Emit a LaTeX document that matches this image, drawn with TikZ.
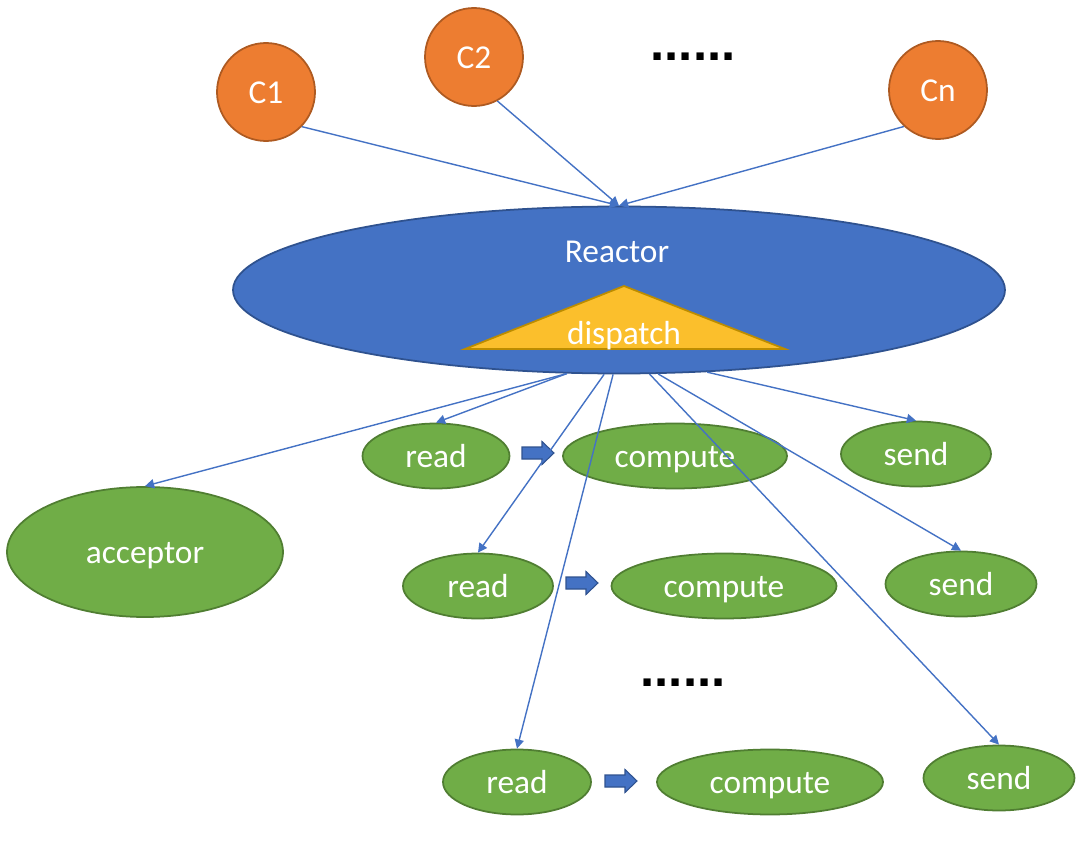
\documentclass[tikz,border=0pt]{standalone}
\usepackage{fontspec}
\setmainfont{Carlito}
\newfontfamily\dotfont{Liberation Sans}
\usetikzlibrary{positioning}
\usetikzlibrary{shapes,arrows.meta}
\newlength\pxu
\setlength\pxu{0.02cm}
\definecolor{reactorFill}{HTML}{4472C4}
\definecolor{reactorEdge}{HTML}{2F528F}
\definecolor{clientFill}{HTML}{ED7D31}
\definecolor{clientEdge}{HTML}{AE5A21}
\definecolor{taskFill}{HTML}{70AD47}
\definecolor{taskEdge}{HTML}{507E32}
\definecolor{triFill}{HTML}{FBBF2C}
\definecolor{triEdge}{HTML}{BC8C00}
\tikzset{
    client/.style={circle, draw=clientEdge, fill=clientFill, line width=1pt,
        minimum size=98\pxu, inner sep=0pt, text=white, text height=13pt, text depth=0pt,
        font=\fontsize{19}{23}\selectfont},
    task/.style={ellipse, draw=taskEdge, fill=taskFill, line width=1pt,
        inner sep=0pt, minimum height=65\pxu, text=white, text height=13pt, text depth=0pt,
        font=\fontsize{19}{23}\selectfont},
    whiteText/.style={text=white, inner sep=0pt, text height=13pt, text depth=0pt,
        font=\fontsize{19}{23}\selectfont},
    link/.style={draw=reactorFill, line width=0.8pt, -{Triangle[length=5.2pt,width=5.2pt]}},
    moreDots/.style={inner sep=0pt, font=\fontsize{29}{29}\dotfont\bfseries}
}
\tikzset{
    blockArrow/.pic={
		\filldraw[fill=reactorFill, draw=reactorEdge, line width=0.6pt]
			(0,-6) -- (20,-6) -- (20,-11.5) -- (32,0) -- (20,11.5) -- (20,6) -- (0,6) -- cycle;
	}
}

\begin{document}
\begin{tikzpicture}[x=\pxu, y=-\pxu]
          \useasboundingbox (0,0) rectangle (1086,858);
          % clients
          \node[client] (C1) at (266,92) {C1};
          \node[client] (C2) at (474,57) {C2};
          \node[client] (Cn) at (938,90) {Cn};
          \node[moreDots] (topDots) at (693,57) {......};
          % reactor
          \node[ellipse, draw=reactorEdge, fill=reactorFill, line width=1pt, inner sep=0pt,
                minimum width=772\pxu, minimum height=167\pxu] (reactor) at (619,290) {};
          \node[whiteText] (reactorLabel) at (617,251) {Reactor};
          \filldraw[fill=triFill, draw=triEdge, line width=1pt] (624,286) -- (785,349) -- (465,349) -- cycle;
          \node[whiteText] (dispatch) at (624,333) {dispatch};
          % handlers
          \node[task, minimum width=276\pxu, minimum height=130\pxu] (acceptor) at (145,552) {acceptor};
          \node[task, minimum width=147\pxu] (read1) at (436,456) {read};
          \node[task, minimum width=224\pxu] (compute1) at (675,456) {compute};
          \node[task, minimum width=150\pxu] (send1) at (916,454) {send};
          \node[task, minimum width=150\pxu] (read2) at (478,586) {read};
          \node[task, minimum width=225\pxu] (compute2) at (724,586) {compute};
          \node[task, minimum width=151\pxu] (send2) at (961,584) {send};
          \node[task, minimum width=148\pxu] (read3) at (517,782) {read};
          \node[task, minimum width=226\pxu] (compute3) at (770,782) {compute};
          \node[task, minimum width=151\pxu] (send3) at (999,778) {send};
          \node[moreDots] (bottomDots) at (683,683) {......};
          \pic at (522,453) {blockArrow};
          \pic at (566,583) {blockArrow};
          \pic at (605,781) {blockArrow};
          % connections
          \draw[link] (C1.-44) -- (reactor.north);
          \draw[link] (C2.-62) -- (reactor.north);
          \draw[link] (Cn.-133) -- (reactor.north);
          \draw[link] (reactor.-122) -- (acceptor.north);
          \draw[link] (reactor.-122) -- (read1.north);
          \draw[link] (reactor.-100) -- (read2.north);
          \draw[link] (reactor.-94) -- (read3.north);
          \draw[link] (reactor.-70) -- (send3.north);
          \draw[link] (reactor.-65) -- (send2.north);
          \draw[link] (reactor.-43) -- (send1.north);
\end{tikzpicture}
\end{document}
